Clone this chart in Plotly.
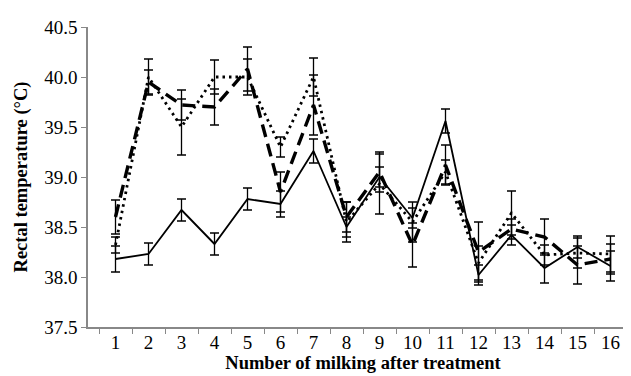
import plotly.graph_objects as go

milking = [str(i) for i in range(1, 17)]

solid = [38.18, 38.23, 38.67, 38.33, 38.78, 38.73, 39.26, 38.50, 39.00, 38.59, 39.56, 38.02, 38.42, 38.09, 38.30, 38.11]
solid_err = [0.13, 0.11, 0.11, 0.11, 0.11, 0.13, 0.12, 0.10, 0.10, 0.10, 0.12, 0.10, 0.10, 0.15, 0.11, 0.15]

dotted = [38.32, 40.00, 39.50, 40.00, 40.00, 39.30, 40.00, 38.55, 38.93, 38.55, 39.05, 38.14, 38.64, 38.22, 38.24, 38.23]
dotted_err = [0.08, 0.18, 0.28, 0.17, 0.18, 0.10, 0.19, 0.20, 0.30, 0.20, 0.12, 0.17, 0.22, 0.10, 0.15, 0.18]

dashed = [38.60, 39.95, 39.72, 39.70, 40.08, 38.85, 39.72, 38.60, 39.05, 38.32, 39.12, 38.25, 38.48, 38.40, 38.12, 38.18]
dashed_err = [0.17, 0.12, 0.15, 0.18, 0.22, 0.20, 0.30, 0.15, 0.20, 0.22, 0.20, 0.30, 0.10, 0.18, 0.19, 0.15]

y_ticks = [37.5, 38.0, 38.5, 39.0, 39.5, 40.0, 40.5]

def err(vals):
    return dict(type="data", array=vals, visible=True, color="black",
                thickness=1.3, width=4.5)

fig = go.Figure()
fig.add_trace(go.Scatter(x=milking, y=dashed, mode="lines", error_y=err(dashed_err),
                         line=dict(color="black", width=3.4, dash="13px,7px")))
fig.add_trace(go.Scatter(x=milking, y=dotted, mode="lines", error_y=err(dotted_err),
                         line=dict(color="black", width=2.8, dash="2.5px,4px")))
fig.add_trace(go.Scatter(x=milking, y=solid, mode="lines", error_y=err(solid_err),
                         line=dict(color="black", width=1.8)))

font = "Liberation Serif"
fig.update_layout(
    width=631, height=376,
    margin=dict(l=80, r=1, t=19, b=57),
    paper_bgcolor="white", plot_bgcolor="white",
    showlegend=False,
    font=dict(family=font, size=19, color="black"),
    xaxis=dict(
        type="category", tickson="boundaries", ticks="outside", ticklen=5,
        tickcolor="#888888", showline=True, linecolor="#888888", linewidth=1.5,
        showgrid=False, zeroline=False, ticklabelstandoff=-3, automargin=False,
        tickfont=dict(family=font, size=19),
        title=dict(text="<b>Number of milking after treatment</b>",
                   font=dict(family=font, size=18.5), standoff=1),
    ),
    yaxis=dict(
        range=[37.5, 40.5], tickvals=y_ticks, tickformat=".1f", automargin=False,
        ticks="outside", ticklen=5, tickcolor="#888888",
        showline=True, linecolor="#888888", linewidth=1.5,
        showgrid=False, zeroline=False,
        tickfont=dict(family=font, size=19),
        title=dict(text="<b>Rectal temperature (°C)</b>",
                   font=dict(family=font, size=18.5), standoff=12),
    ),
)

fig.write_html("out.html")
